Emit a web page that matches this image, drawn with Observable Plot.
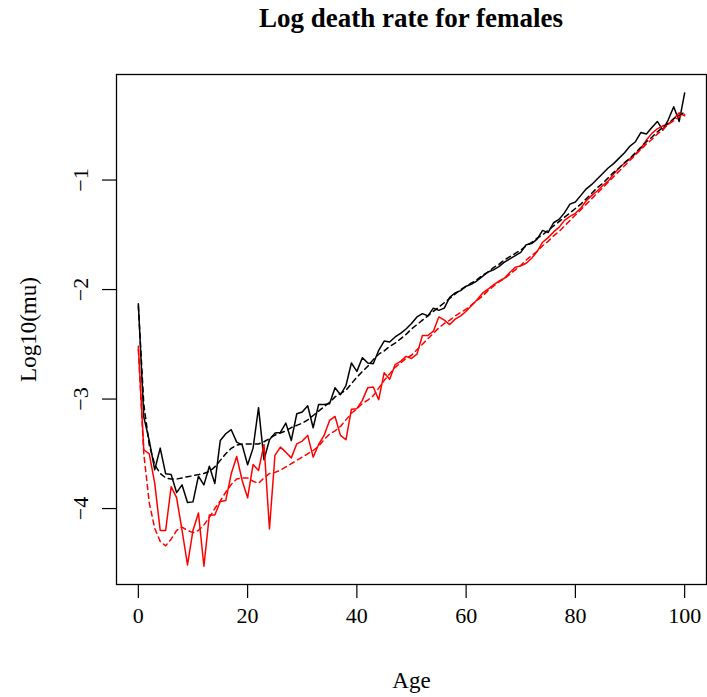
<!DOCTYPE html>
<html>
<head>
<meta charset="utf-8">
<script src="https://cdn.jsdelivr.net/npm/d3@7"></script>
<script src="https://cdn.jsdelivr.net/npm/@observablehq/plot@0.6"></script>
<style>
  html, body { margin: 0; padding: 0; background: #fff; }
  #title { position: relative; height: 48px; width: 707px; }
  #title div { position: absolute; left: 116px; width: 590px; top: 5px; text-align: center;
    font-family: "Liberation Serif", serif; font-weight: bold; font-size: 27px; line-height: 27px; color: #000; }
</style>
</head>
<body>
<div id="title"><div>Log death rate for females</div></div>
<div id="chart"></div>
<script>
const ages = d3.range(0, 101);
const xTicks = [0, 20, 40, 60, 80, 100];
const yTicks = [-1, -2, -3, -4];

const blackObs = [-2.13,-3.165,-3.38,-3.646,-3.448,-3.683,-3.689,-3.854,-3.784,-3.945,
  -3.939,-3.704,-3.784,-3.613,-3.771,-3.378,-3.317,-3.28,-3.393,-3.418,
  -3.60,-3.448,-3.079,-3.555,-3.372,-3.311,-3.305,-3.22,-3.378,-3.134,
  -3.119,-3.061,-3.262,-3.049,-3.049,-3.043,-2.896,-2.96,-2.878,-2.671,
  -2.747,-2.622,-2.671,-2.677,-2.555,-2.47,-2.479,-2.433,-2.40,-2.36,
  -2.31,-2.25,-2.22,-2.24,-2.17,-2.19,-2.17,-2.07,-2.03,-2.01,
  -1.97,-1.95,-1.92,-1.88,-1.84,-1.82,-1.79,-1.75,-1.72,-1.69,
  -1.66,-1.59,-1.58,-1.54,-1.46,-1.48,-1.39,-1.36,-1.30,-1.22,
  -1.20,-1.14,-1.08,-1.04,-0.99,-0.94,-0.89,-0.85,-0.80,-0.75,
  -0.69,-0.65,-0.565,-0.58,-0.52,-0.465,-0.544,-0.45,-0.331,-0.465,-0.206];

const blackFit = [-2.15,-3.05,-3.42,-3.6,-3.68,-3.72,-3.73,-3.73,-3.72,-3.71,
  -3.70,-3.69,-3.68,-3.66,-3.62,-3.56,-3.5,-3.45,-3.42,-3.41,
  -3.41,-3.41,-3.41,-3.39,-3.36,-3.33,-3.31,-3.29,-3.26,-3.24,
  -3.22,-3.19,-3.15,-3.11,-3.07,-3.03,-2.98,-2.95,-2.92,-2.86,
  -2.8,-2.75,-2.7,-2.64,-2.59,-2.56,-2.52,-2.49,-2.45,-2.41,
  -2.36,-2.32,-2.28,-2.24,-2.2,-2.16,-2.12,-2.08,-2.04,-2.0,
  -1.97,-1.94,-1.91,-1.87,-1.84,-1.8,-1.77,-1.73,-1.7,-1.67,
  -1.64,-1.6,-1.57,-1.53,-1.5,-1.46,-1.42,-1.38,-1.34,-1.3,
  -1.26,-1.22,-1.17,-1.12,-1.07,-1.03,-0.98,-0.93,-0.89,-0.84,
  -0.8,-0.75,-0.7,-0.65,-0.61,-0.56,-0.52,-0.48,-0.44,-0.41,-0.38];

const redObs = [-2.518,-3.463,-3.50,-3.77,-4.20,-4.20,-3.80,-3.90,-4.20,-4.515,
  -4.20,-4.04,-4.527,-4.058,-4.058,-3.936,-3.927,-3.683,-3.524,-3.744,
  -3.902,-3.598,-3.652,-3.415,-4.186,-3.515,-3.439,-3.485,-3.537,-3.409,
  -3.384,-3.332,-3.53,-3.415,-3.332,-3.195,-3.159,-3.332,-3.372,-3.094,
  -3.088,-3.012,-2.896,-2.89,-3.006,-2.759,-2.82,-2.686,-2.655,-2.61,
  -2.63,-2.59,-2.42,-2.42,-2.38,-2.25,-2.28,-2.32,-2.27,-2.24,
  -2.198,-2.146,-2.094,-2.033,-1.997,-1.957,-1.924,-1.897,-1.845,-1.796,
  -1.784,-1.76,-1.714,-1.653,-1.568,-1.526,-1.474,-1.432,-1.368,-1.331,
  -1.304,-1.255,-1.188,-1.14,-1.10,-1.05,-1.01,-0.945,-0.89,-0.845,
  -0.805,-0.76,-0.71,-0.635,-0.574,-0.532,-0.505,-0.49,-0.44,-0.386,-0.413];

const redFit = [-2.55,-3.5,-3.95,-4.18,-4.3,-4.34,-4.28,-4.2,-4.17,-4.2,
  -4.22,-4.2,-4.15,-4.08,-4.0,-3.93,-3.85,-3.78,-3.73,-3.72,
  -3.72,-3.75,-3.77,-3.72,-3.68,-3.67,-3.65,-3.62,-3.59,-3.56,
  -3.53,-3.5,-3.47,-3.43,-3.37,-3.32,-3.29,-3.25,-3.19,-3.13,
  -3.09,-3.04,-3.01,-2.97,-2.9,-2.83,-2.77,-2.71,-2.67,-2.63,
  -2.6,-2.55,-2.5,-2.45,-2.4,-2.35,-2.31,-2.28,-2.24,-2.21,
  -2.18,-2.14,-2.1,-2.06,-2.01,-1.97,-1.93,-1.9,-1.86,-1.82,
  -1.78,-1.73,-1.69,-1.65,-1.6,-1.56,-1.51,-1.47,-1.42,-1.37,
  -1.32,-1.27,-1.22,-1.17,-1.12,-1.07,-1.02,-0.97,-0.92,-0.87,
  -0.82,-0.77,-0.72,-0.67,-0.63,-0.58,-0.54,-0.49,-0.46,-0.42,-0.40];

const series = (vals) => ages.map((a, i) => ({age: a, v: vals[i]}));
const font = "Liberation Serif, serif";
const minus = d => String(d).replace("-", "\u2212");

const chart = Plot.plot({
  width: 707,
  height: 649,
  marginTop: 26,
  marginBottom: 113,
  marginLeft: 116,
  marginRight: 1,
  style: {fontFamily: font, color: "#000", background: "#fff"},
  x: {domain: [-4, 104]},
  y: {domain: [-4.6935, -0.0362]},
  marks: [
    Plot.frame({stroke: "#000", strokeWidth: 1.3}),
    Plot.axisX({ticks: xTicks, tickSize: 14, tickPadding: 9, fontSize: 22, label: null, strokeWidth: 1.2}),
    Plot.axisY({ticks: yTicks, tickSize: 14, tickFormat: () => "", label: null, strokeWidth: 1.2}),
    Plot.text(yTicks, {y: d => d, text: minus, frameAnchor: "left", dx: -36, rotate: -90, fontSize: 22, textAnchor: "middle", lineAnchor: "middle"}),
    Plot.text(["Age"], {frameAnchor: "bottom", dy: 96, fontSize: 23, lineAnchor: "middle"}),
    Plot.text(["Log10(mu)"], {frameAnchor: "left", dx: -88, rotate: -90, fontSize: 23, textAnchor: "middle", lineAnchor: "middle"}),
    Plot.line(series(blackObs), {x: "age", y: "v", stroke: "#000", strokeWidth: 1.5}),
    Plot.line(series(redObs), {x: "age", y: "v", stroke: "#ff0000", strokeWidth: 1.5}),
    Plot.line(series(blackFit), {x: "age", y: "v", stroke: "#000", strokeWidth: 1.5, strokeDasharray: "5,4"}),
    Plot.line(series(redFit), {x: "age", y: "v", stroke: "#ff0000", strokeWidth: 1.5, strokeDasharray: "5,4"})
  ]
});
document.getElementById("chart").appendChild(chart);
</script>
</body>
</html>
